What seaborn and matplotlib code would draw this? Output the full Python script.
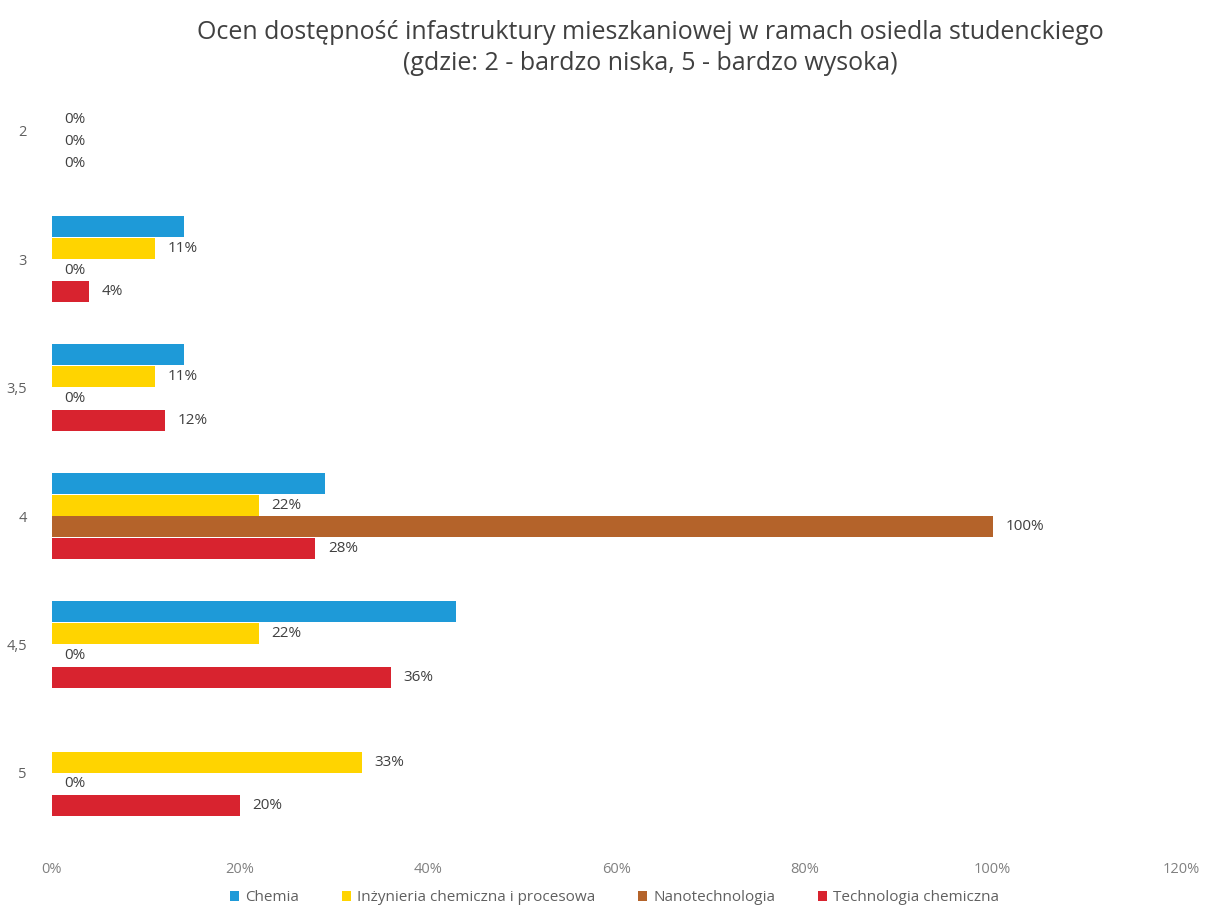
import pandas as pd
import numpy as np
import matplotlib.pyplot as plt
import seaborn as sns

categories = ['2', '3', '3,5', '4', '4,5', '5']
series = ['Chemia', 'Inżynieria chemiczna i procesowa', 'Nanotechnologia', 'Technologia chemiczna']
chemia = [0.0, 0.14, 0.14, 0.29, 0.43, 0.0]
inzynieria = [0.0, 0.11, 0.11, 0.22, 0.22, 0.33]
nano = [0.0, 0.0, 0.0, 1.00, 0.0, 0.0]
technologia = [0.0, 0.04, 0.12, 0.28, 0.36, 0.20]
colors = ['#1E9AD8', '#FFD400', '#B4632A', '#D8232F']
labelled = [False, True, True, True]

rows = []
for name, vals in zip(series, [chemia, inzynieria, nano, technologia]):
    for cat, v in zip(categories, vals):
        rows.append({'ocena': cat, 'kierunek': name, 'udzial': v})
df = pd.DataFrame(rows)

sns.set_style("white")
plt.rcParams['font.family'] = ['Open Sans', 'DejaVu Sans']

fig = plt.figure(figsize=(12.05, 9.10), dpi=100)
ax = fig.add_axes([0.043, 0.080, 0.937, 0.847])

sns.barplot(data=df, y='ocena', x='udzial', hue='kierunek', order=categories,
            hue_order=series, palette=colors, saturation=1, orient='h',
            width=0.68, gap=0.04, edgecolor='none', ax=ax, legend=True)

for cont, show in zip(ax.containers, labelled):
    if not show:
        continue
    labs = [f"{b.get_width():.0%}" for b in cont]
    ax.bar_label(cont, labels=labs, padding=9, fontsize=11, color='#404040')

ax.set_xlim(0, 1.2)
ax.set_xticks(np.arange(0, 1.21, 0.2))
ax.set_xticklabels([f"{int(round(t * 100))}%" for t in np.arange(0, 1.21, 0.2)],
                   color='#808080', fontsize=10.5)
ax.tick_params(axis='x', length=0, pad=18)
ax.tick_params(axis='y', length=0, pad=18, labelcolor='#606060', labelsize=10.5)
ax.set_xlabel('')
ax.set_ylabel('')
for s in ax.spines.values():
    s.set_visible(False)

fig.suptitle('Ocen dostępność infastruktury mieszkaniowej w ramach osiedla studenckiego\n'
             '(gdzie: 2 - bardzo niska, 5 - bardzo wysoka)',
             x=0.54, y=0.978, fontsize=18, color='#404040', linespacing=1.3)

handles, labels = ax.get_legend_handles_labels()
ax.get_legend().remove()
fig.legend(handles, labels, loc='lower center', ncol=4, frameon=False,
           bbox_to_anchor=(0.51, -0.01), fontsize=11, handlelength=0.6,
           handleheight=0.6, columnspacing=2.8, handletextpad=0.4,
           labelcolor='#606060')

fig.savefig('out.png', dpi=100)
